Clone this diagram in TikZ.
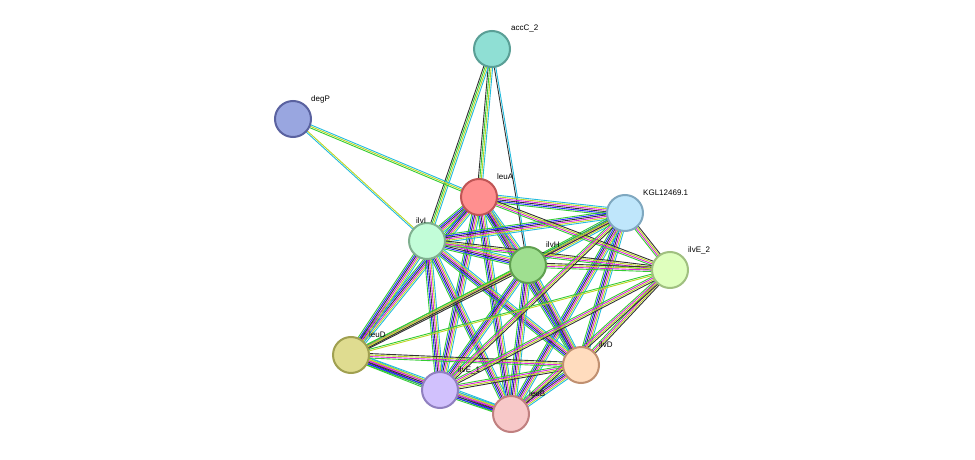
\documentclass[tikz,border=0pt]{standalone}
\usepackage{fontspec}
\setmainfont{Liberation Sans}
\usetikzlibrary{calc,backgrounds}
\definecolor{sg}{HTML}{33CC33}
\definecolor{sr}{HTML}{FF2222}
\definecolor{sb}{HTML}{2222FF}
\definecolor{sk}{HTML}{333333}
\definecolor{sm}{HTML}{DD22DD}
\definecolor{sy}{HTML}{BBD622}
\definecolor{sc}{HTML}{22BBDD}
\newcommand\sedge[4]{%
  \foreach \c [count=\i] in {#4}{%
    \pgfmathsetmacro\off{(\i-1-(#3-1)/2)*1.5}%
    \draw[color=\c,line width=0.9pt] ($(#1)!\off pt!90:(#2)$) -- ($(#2)!\off pt!-90:(#1)$);
  }}
\tikzset{
  prot/.style={circle,minimum size=36pt,inner sep=0pt,line width=2pt},
  lab/.style={font=\fontsize{8pt}{9pt}\selectfont,anchor=base west,inner sep=0pt}
}
\begin{document}
\begin{tikzpicture}[x=1pt,y=-1pt]
\useasboundingbox (0,0) rectangle (975,460);
\definecolor{f1}{HTML}{8FDFD4}\definecolor{b1}{HTML}{5A9F96}
\definecolor{f2}{HTML}{99A6E0}\definecolor{b2}{HTML}{5A62A0}
\definecolor{f3}{HTML}{FF8F8F}\definecolor{b3}{HTML}{C05555}
\definecolor{f4}{HTML}{BFE6FB}\definecolor{b4}{HTML}{7FA8C0}
\definecolor{f5}{HTML}{C2FDD8}\definecolor{b5}{HTML}{80B090}
\definecolor{f6}{HTML}{9FDF90}\definecolor{b6}{HTML}{60A050}
\definecolor{f7}{HTML}{DFFFBE}\definecolor{b7}{HTML}{A0C080}
\definecolor{f8}{HTML}{DFDC90}\definecolor{b8}{HTML}{A0A050}
\definecolor{f9}{HTML}{FFDCBE}\definecolor{b9}{HTML}{C09070}
\definecolor{f10}{HTML}{D1C1FD}\definecolor{b10}{HTML}{9080C0}
\definecolor{f11}{HTML}{F7C8C8}\definecolor{b11}{HTML}{C08080}
\node[prot,fill=f1,draw=b1] (accC) at (492,49) {};
\node[prot,fill=f2,draw=b2] (degP) at (293,119) {};
\node[prot,fill=f3,draw=b3] (leuA) at (479,197) {};
\node[prot,fill=f4,draw=b4] (KGL) at (625,213) {};
\node[prot,fill=f5,draw=b5] (ilvI) at (427,241) {};
\node[prot,fill=f6,draw=b6] (ilvH) at (528,265) {};
\node[prot,fill=f7,draw=b7] (ilvE2) at (670,270) {};
\node[prot,fill=f8,draw=b8] (leuD) at (351,355) {};
\node[prot,fill=f9,draw=b9] (ilvD) at (581,365) {};
\node[prot,fill=f10,draw=b10] (ilvE1) at (440,390) {};
\node[prot,fill=f11,draw=b11] (leuB) at (511,414) {};
\node[lab] (t1) at (511,31) {accC\_2};
\node[lab] (t2) at (311,101) {degP};
\node[lab] (t3) at (497,179) {leuA};
\node[lab] (t4) at (643,195) {KGL12469.1};
\node[lab] (t5) at (416,223) {ilvI};
\node[lab] (t6) at (546,247) {ilvH};
\node[lab] (t7) at (688,252) {ilvE\_2};
\node[lab] (t8) at (369,337) {leuD};
\node[lab] (t9) at (599,347) {ilvD};
\node[lab] (t10) at (458,372) {ilvE\_1};
\node[lab] (t11) at (529,396) {leuB};
\begin{pgfonlayer}{background}
\sedge{accC}{leuA}{4}{sk,sg,sy,sc}
\sedge{accC}{ilvI}{4}{sk,sg,sy,sc}
\sedge{accC}{ilvH}{2}{sk,sc}
\sedge{degP}{leuA}{3}{sg,sy,sc}
\sedge{degP}{ilvI}{2}{sc,sy}
\foreach \a/\b in {leuA/KGL,leuA/ilvI,leuA/ilvH,leuA/leuD,leuA/ilvD,leuA/ilvE1,leuA/leuB,
  KGL/ilvI,KGL/ilvH,KGL/ilvD,KGL/leuB,ilvI/ilvH,ilvI/leuD,ilvI/ilvD,ilvI/ilvE1,ilvI/leuB,
  ilvH/ilvD,ilvH/ilvE1,ilvH/leuB,leuD/ilvE1,leuD/leuB,ilvE1/leuB,ilvD/leuB}
  {\sedge{\a}{\b}{6}{sg,sb,sk,sm,sy,sc}}
\foreach \a/\b in {leuA/ilvE2,ilvI/ilvE2,ilvH/ilvE2,KGL/ilvE2,leuD/ilvD,ilvD/ilvE1,
  ilvH/leuD,KGL/ilvE1,ilvE2/ilvD,ilvE2/leuB,ilvE2/ilvE1}
  {\sedge{\a}{\b}{4}{sg,sm,sy,sk}}
\sedge{KGL}{leuD}{3}{sg,sy,sk}
\sedge{ilvE2}{leuD}{2}{sg,sy}
\end{pgfonlayer}
\end{tikzpicture}
\end{document}
